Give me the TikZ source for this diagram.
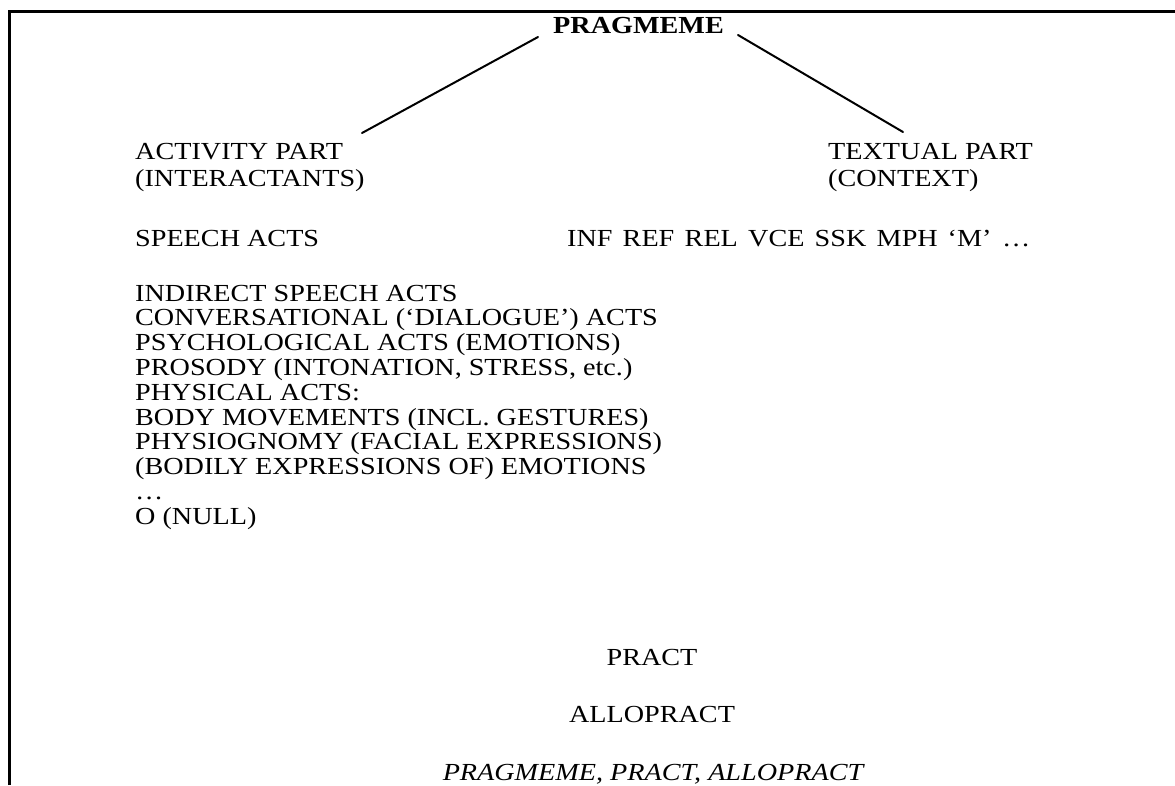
\documentclass[tikz,border=0pt]{standalone}
\usepackage{fontspec}
\setmainfont{Liberation Serif}[FakeStretch=1.15]
\begin{document}
\begin{tikzpicture}[x=1pt,y=-1pt,
  txt/.style={anchor=base west, inner sep=0pt, font=\fontsize{24.5}{27.5}\selectfont},
  ctxt/.style={anchor=base, inner sep=0pt, font=\fontsize{24.5}{27.5}\selectfont},
  conn/.style={line width=2pt, line cap=round},
  frame/.style={line width=2.7pt}]
\useasboundingbox (0,0) rectangle (1175,785);
% frame (top and left rule)
\draw[frame] (9.5,785) -- (9.5,11.2) -- (1175,11.2);
% title
\node[txt, font=\fontsize{24.5}{27.5}\selectfont\bfseries] (prag) at (553,33) {PRAGMEME};
% two parts
\node[txt] (act) at (135,159) {ACTIVITY PART};
\node[txt] (inter) at (135,186) {(INTERACTANTS)};
\node[txt] (text) at (828,159) {TEXTUAL PART};
\node[txt] (ctx) at (828,186) {(CONTEXT)};
% connectors
\coordinate (pl) at (538,37);
\coordinate (pr) at (738,35);
\coordinate (al) at (362,133);
\coordinate (tr) at (903,132);
\draw[conn] (pl) -- (al);
\draw[conn] (pr) -- (tr);
% speech acts row
\node[txt] (sa) at (135,246) {SPEECH ACTS};
\node[txt] (inf) at (567,246) {INF};
\node[txt] (ref) at (622.5,246) {REF};
\node[txt] (rel) at (684.5,246) {REL};
\node[txt] (vce) at (748,246) {VCE};
\node[txt] (ssk) at (814.5,246) {SSK};
\node[txt] (mph) at (876.5,246) {MPH};
\node[txt] (m) at (947.5,246) {‘M’};
\node[txt] (dots) at (1002,246) {\ldots};
% list
\node[txt] (l1) at (135,301) {INDIRECT SPEECH ACTS};
\node[txt] (l2) at (135,325.8) {CONVERSATIONAL (‘DIALOGUE’) ACTS};
\node[txt] (l3) at (135,350.6) {PSYCHOLOGICAL ACTS (EMOTIONS)};
\node[txt] (l4) at (135,375.4) {PROSODY (INTONATION, STRESS, etc.)};
\node[txt] (l5) at (135,400.2) {PHYSICAL ACTS:};
\node[txt] (l6) at (135,425) {BODY MOVEMENTS (INCL. GESTURES)};
\node[txt] (l7) at (135,449.8) {PHYSIOGNOMY (FACIAL EXPRESSIONS)};
\node[txt] (l8) at (135,474.6) {(BODILY EXPRESSIONS OF) EMOTIONS};
\node[txt] (l9) at (135,499.4) {\ldots};
\node[txt] (l10) at (135,524.2) {O (NULL)};
% bottom
\node[ctxt] (pract) at (652,665) {PRACT};
\node[ctxt] (allo) at (652,722) {ALLOPRACT};
\node[ctxt, font=\fontsize{24.5}{27.5}\selectfont\itshape] (cap) at (653,780) {PRAGMEME, PRACT, ALLOPRACT};
\end{tikzpicture}
\end{document}
